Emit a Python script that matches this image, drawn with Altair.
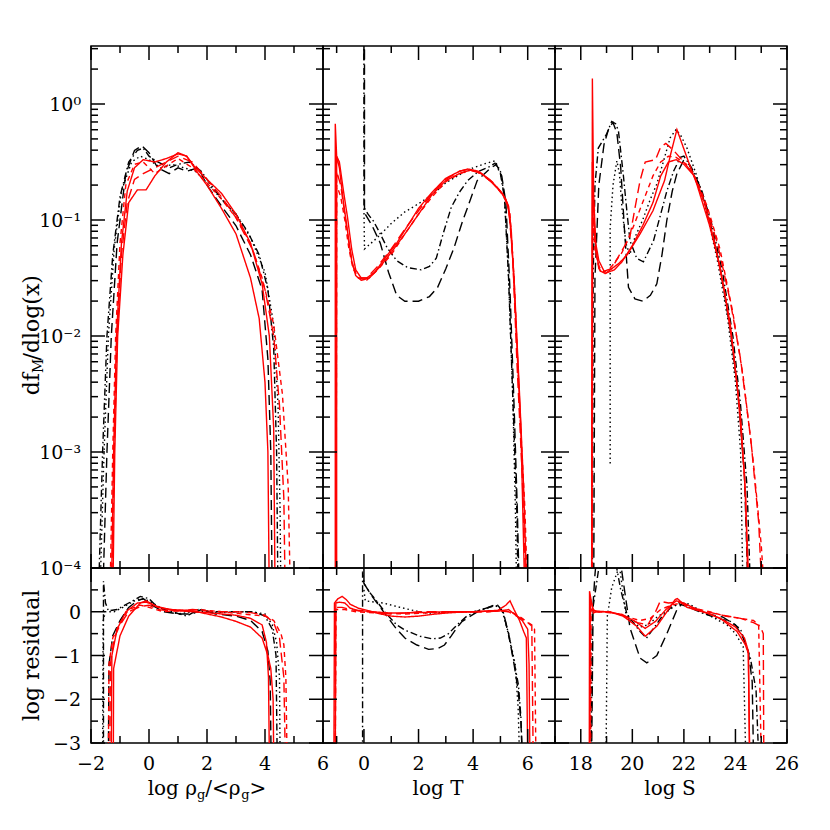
import altair as alt
import pandas as pd

# ---------------- series styling ----------------
SERIES = ["blk_dot", "blk_dashdot", "blk_longdash",
          "red_solid_a", "red_solid_b", "red_longdash", "red_shortdash"]
COLORS = ["#000000", "#000000", "#000000", "#ff0000", "#ff0000", "#ff0000", "#ff0000"]
DASHES = [[1.5, 3], [1.5, 3, 7, 3], [10, 5], [1, 0], [1, 0], [10, 5], [5, 4]]

# ---------------- data: top panels are (x, log10 df/dlogx), bottom (x, log residual) -------------
RHO_TOP_BLK_DOT = [(-1.7,-4.3),(-1.55,-3.0),(-1.4,-2.0),(-1.2,-1.25),(-0.95,-0.75),(-0.6,-0.5),(-0.3,-0.45),(0.0,-0.48),(0.4,-0.55),(0.8,-0.52),(1.2,-0.55),(1.6,-0.58),(2.0,-0.68),(2.5,-0.82),(3.0,-0.95),(3.5,-1.15),(4.0,-1.45),(4.3,-1.9),(4.45,-2.6),(4.52,-3.5),(4.55,-4.3)]
RHO_TOP_BLK_DD = [(-1.75,-4.3),(-1.6,-3.0),(-1.45,-2.0),(-1.25,-1.3),(-1.0,-0.8),(-0.7,-0.5),(-0.4,-0.4),(-0.2,-0.38),(0.0,-0.45),(0.3,-0.5),(0.7,-0.55),(1.0,-0.52),(1.4,-0.5),(1.8,-0.58),(2.2,-0.72),(2.6,-0.85),(3.0,-0.95),(3.4,-1.1),(3.8,-1.3),(4.1,-1.6),(4.3,-2.1),(4.4,-3.0),(4.45,-4.3)]
RHO_TOP_BLK_LD = [(-1.6,-4.3),(-1.45,-3.0),(-1.3,-2.0),(-1.1,-1.2),(-0.8,-0.6),(-0.5,-0.4),(-0.25,-0.36),(0.0,-0.42),(0.3,-0.55),(0.7,-0.6),(1.0,-0.55),(1.3,-0.58),(1.7,-0.55),(2.0,-0.7),(2.5,-0.88),(3.0,-1.05),(3.5,-1.3),(3.9,-1.6),(4.1,-2.2),(4.2,-3.0),(4.25,-4.3)]
RHO_TOP_RED_SA = [(-1.3,-4.3),(-1.22,-3.0),(-1.12,-2.0),(-0.95,-1.2),(-0.75,-0.75),(-0.5,-0.55),(-0.2,-0.48),(0.2,-0.5),(0.6,-0.47),(1.0,-0.43),(1.3,-0.45),(1.6,-0.55),(2.0,-0.65),(2.5,-0.77),(3.0,-0.95),(3.5,-1.2),(3.9,-1.55),(4.15,-2.0),(4.3,-2.8),(4.35,-4.3)]
RHO_TOP_RED_SB = [(-1.25,-4.3),(-1.18,-3.0),(-1.08,-2.0),(-0.9,-1.3),(-0.7,-0.85),(-0.4,-0.74),(-0.1,-0.74),(0.2,-0.62),(0.6,-0.5),(1.0,-0.42),(1.3,-0.45),(1.7,-0.6),(2.0,-0.7),(2.5,-0.9),(3.0,-1.12),(3.5,-1.5),(3.8,-1.85),(4.0,-2.4),(4.1,-3.0),(4.15,-4.3)]
RHO_TOP_RED_LD = [(-1.3,-4.3),(-1.2,-3.0),(-1.1,-2.0),(-0.95,-1.3),(-0.75,-0.85),(-0.5,-0.65),(-0.2,-0.6),(0.2,-0.55),(0.6,-0.5),(1.0,-0.45),(1.5,-0.5),(2.0,-0.65),(2.5,-0.8),(3.0,-0.98),(3.6,-1.27),(4.0,-1.6),(4.3,-2.0),(4.5,-2.6),(4.65,-3.4),(4.7,-4.3)]
RHO_TOP_RED_SD = [(-1.35,-4.3),(-1.25,-3.0),(-1.15,-2.0),(-1.0,-1.2),(-0.8,-0.7),(-0.5,-0.52),(-0.2,-0.5),(0.2,-0.6),(0.5,-0.55),(1.0,-0.47),(1.5,-0.55),(2.0,-0.68),(2.5,-0.82),(3.0,-0.98),(3.5,-1.2),(3.9,-1.5),(4.3,-1.9),(4.6,-2.5),(4.8,-3.3),(4.88,-4.3)]

RHO_BOT_BLK_DOT = [(-1.6,-3.3),(-1.58,-0.2),(-1.5,0.0),(-1.2,0.0),(-0.9,0.1),(-0.5,0.25),(-0.3,0.3),(0.0,0.25),(0.5,0.05),(1.0,-0.05),(1.5,0.0),(2.0,0.0),(2.5,-0.02),(3.0,0.0),(3.5,0.0),(4.0,-0.05),(4.25,-0.3),(4.4,-0.7),(4.5,-1.5),(4.52,-3.3)]
RHO_BOT_BLK_DD = [(-1.57,-3.3),(-1.57,0.7),(-1.5,0.2),(-1.4,0.02),(-1.1,0.05),(-0.7,0.2),(-0.3,0.35),(0.0,0.3),(0.3,0.1),(0.8,0.0),(1.3,-0.1),(1.7,0.05),(2.2,0.0),(3.0,0.0),(3.6,0.0),(4.0,-0.1),(4.25,-0.4),(4.38,-1.0),(4.42,-3.3)]
RHO_BOT_BLK_LD = [(-1.4,-3.3),(-1.38,-1.2),(-1.25,-0.55),(-1.0,-0.2),(-0.7,0.1),(-0.4,0.25),(-0.2,0.3),(0.1,0.15),(0.5,0.0),(1.0,-0.05),(1.5,-0.05),(1.8,0.05),(2.3,-0.05),(3.0,-0.1),(3.5,-0.2),(3.9,-0.45),(4.1,-0.9),(4.18,-1.6),(4.21,-3.3)]
RHO_BOT_RED_SA = [(-1.23,-3.3),(-1.22,-1.3),(-1.0,-0.55),(-0.7,-0.1),(-0.3,0.2),(-0.1,0.25),(0.3,0.1),(0.8,0.05),(1.5,0.02),(2.0,-0.05),(2.5,-0.12),(3.0,-0.22),(3.5,-0.35),(3.9,-0.6),(4.1,-1.0),(4.2,-1.3),(4.28,-2.0),(4.3,-3.3)]
RHO_BOT_RED_SB = [(-1.3,-3.3),(-1.28,-1.0),(-1.1,-0.4),(-0.8,0.0),(-0.4,0.2),(-0.1,0.22),(0.3,0.12),(0.8,0.03),(1.5,0.0),(2.0,-0.02),(2.5,-0.05),(3.0,-0.08),(3.5,-0.15),(3.9,-0.3),(4.05,-0.7),(4.12,-1.5),(4.15,-3.3)]
RHO_BOT_RED_LD = [(-1.35,-3.3),(-1.33,-1.2),(-1.2,-0.6),(-1.0,-0.3),(-0.7,0.0),(-0.3,0.12),(0.0,0.15),(0.3,0.05),(0.8,0.02),(1.5,0.05),(2.0,0.02),(2.5,0.0),(3.0,0.0),(3.5,-0.02),(4.0,-0.08),(4.3,-0.25),(4.5,-0.6),(4.65,-1.5),(4.7,-3.3)]
RHO_BOT_RED_SD = [(-1.4,-3.3),(-1.38,-1.2),(-1.25,-0.6),(-1.0,-0.25),(-0.7,0.05),(-0.3,0.15),(0.0,0.1),(0.5,0.0),(1.0,0.02),(1.7,0.05),(2.5,0.0),(3.2,-0.05),(4.0,-0.1),(4.3,-0.2),(4.55,-0.5),(4.65,-0.75),(4.72,-1.5),(4.76,-3.3)]

T_TOP_BLK_DOT = [(0.0,-0.9),(0.02,-1.25),(0.5,-1.15),(1.0,-1.03),(1.5,-0.93),(2.0,-0.86),(2.5,-0.78),(3.0,-0.68),(3.5,-0.61),(4.0,-0.55),(4.5,-0.51),(4.8,-0.49),(5.0,-0.58),(5.15,-0.8),(5.3,-1.5),(5.45,-2.5),(5.55,-3.5),(5.6,-4.3)]
T_TOP_BLK_DD = [(0.0,0.6),(0.0,-0.89),(0.15,-0.95),(0.35,-1.01),(0.6,-1.12),(0.85,-1.24),(1.2,-1.35),(1.6,-1.41),(2.1,-1.43),(2.4,-1.4),(2.65,-1.33),(2.9,-1.12),(3.2,-0.89),(3.5,-0.76),(3.8,-0.66),(4.2,-0.58),(4.6,-0.54),(4.8,-0.51),(5.0,-0.6),(5.15,-0.81),(5.3,-1.5),(5.45,-2.5),(5.6,-3.5),(5.66,-4.3)]
T_TOP_BLK_LD = [(0.02,0.6),(0.02,-0.9),(0.05,-0.95),(0.3,-1.05),(0.6,-1.2),(0.9,-1.45),(1.2,-1.65),(1.5,-1.7),(2.0,-1.7),(2.4,-1.66),(2.7,-1.58),(3.0,-1.42),(3.3,-1.24),(3.6,-1.02),(3.8,-0.89),(4.15,-0.66),(4.6,-0.56),(4.85,-0.52),(5.05,-0.62),(5.2,-0.85),(5.35,-1.6),(5.5,-2.6),(5.62,-3.5),(5.7,-4.3)]
T_TOP_RED_SA = [(-1.05,-4.3),(-1.05,-0.17),(-1.0,-0.45),(-0.9,-0.5),(-0.75,-0.75),(-0.6,-0.98),(-0.45,-1.25),(-0.3,-1.43),(-0.1,-1.5),(0.1,-1.5),(0.4,-1.45),(0.8,-1.32),(1.2,-1.2),(1.6,-1.05),(2.0,-0.9),(2.5,-0.76),(3.0,-0.64),(3.5,-0.58),(3.8,-0.56),(4.2,-0.58),(4.6,-0.65),(5.0,-0.75),(5.25,-0.85),(5.35,-1.0),(5.5,-1.5),(5.7,-2.5),(5.85,-3.3),(5.98,-4.3)]
T_TOP_RED_SB = [(-1.0,-4.3),(-1.0,-0.45),(-0.9,-0.55),(-0.75,-0.85),(-0.6,-1.1),(-0.45,-1.35),(-0.3,-1.48),(-0.1,-1.52),(0.2,-1.5),(0.6,-1.4),(1.0,-1.28),(1.5,-1.12),(2.0,-0.95),(2.5,-0.78),(3.0,-0.66),(3.5,-0.6),(3.9,-0.57),(4.3,-0.6),(4.7,-0.68),(5.1,-0.78),(5.3,-0.88),(5.4,-1.1),(5.55,-1.8),(5.75,-2.8),(5.9,-4.3)]
T_TOP_RED_LD = [(-1.02,-4.3),(-1.0,-0.58),(-0.85,-0.7),(-0.7,-0.95),(-0.55,-1.2),(-0.4,-1.4),(-0.2,-1.5),(0.1,-1.5),(0.5,-1.4),(1.0,-1.25),(1.5,-1.08),(2.0,-0.92),(2.5,-0.77),(3.0,-0.65),(3.5,-0.58),(3.9,-0.56),(4.3,-0.6),(4.7,-0.67),(5.1,-0.78),(5.3,-0.9),(5.45,-1.3),(5.6,-2.2),(5.8,-3.2),(5.95,-4.3)]
T_TOP_RED_SD = [(-1.02,-4.3),(-1.0,-0.7),(-0.85,-0.8),(-0.7,-1.0),(-0.55,-1.25),(-0.4,-1.42),(-0.2,-1.5),(0.1,-1.52),(0.5,-1.43),(1.0,-1.3),(1.5,-1.12),(2.0,-0.95),(2.5,-0.8),(3.0,-0.67),(3.5,-0.6),(3.9,-0.57),(4.3,-0.6),(4.8,-0.7),(5.2,-0.82),(5.35,-0.95),(5.5,-1.5),(5.7,-2.6),(5.9,-3.5),(6.0,-4.3)]

T_BOT_BLK_DOT = [(0.0,0.5),(0.05,0.25),(0.4,0.22),(0.7,0.2),(1.2,0.12),(1.8,0.03),(2.3,-0.03),(3.0,-0.02),(3.5,0.0),(4.0,0.0),(4.5,0.08),(4.8,0.15),(5.05,0.05),(5.3,-0.5),(5.54,-1.2),(5.65,-2.2),(5.7,-3.3)]
T_BOT_BLK_DD = [(-0.05,-3.3),(-0.05,0.92),(0.0,0.65),(0.2,0.45),(0.47,0.24),(0.7,0.05),(0.9,-0.1),(1.2,-0.3),(1.5,-0.42),(2.06,-0.56),(2.5,-0.62),(2.8,-0.6),(3.1,-0.5),(3.3,-0.37),(3.5,-0.25),(3.77,-0.1),(4.1,0.0),(4.4,0.06),(4.8,0.16),(5.1,0.0),(5.35,-0.68),(5.55,-1.3),(5.66,-1.67),(5.75,-2.4),(5.8,-3.3)]
T_BOT_BLK_LD = [(0.0,0.65),(0.3,0.35),(0.6,0.1),(0.9,-0.15),(1.2,-0.4),(1.5,-0.6),(1.94,-0.76),(2.37,-0.86),(2.7,-0.84),(2.95,-0.76),(3.2,-0.55),(3.4,-0.37),(3.6,-0.22),(3.9,-0.1),(4.3,0.05),(4.7,0.12),(4.9,0.15),(5.1,0.0),(5.3,-0.5),(5.5,-1.2),(5.65,-1.8),(5.75,-2.5),(5.8,-3.3)]
T_BOT_RED_SA = [(-1.1,-3.3),(-1.08,0.2),(-0.95,0.3),(-0.8,0.35),(-0.65,0.28),(-0.5,0.17),(-0.2,0.08),(0.2,0.02),(0.6,-0.05),(1.0,-0.1),(1.5,-0.12),(2.0,-0.1),(2.5,-0.06),(3.0,-0.03),(3.5,-0.01),(4.0,0.0),(4.5,0.02),(4.9,0.03),(5.2,0.15),(5.35,0.25),(5.5,0.05),(5.7,-0.2),(5.85,-0.45),(5.95,-0.6),(6.0,-3.3)]
T_BOT_RED_SB = [(-1.05,-3.3),(-1.03,0.2),(-0.9,0.22),(-0.7,0.2),(-0.5,0.08),(-0.2,0.03),(0.3,0.0),(1.0,-0.03),(2.0,-0.02),(3.0,0.0),(4.0,0.0),(5.0,0.02),(5.3,0.05),(5.5,-0.05),(5.8,-0.2),(6.0,-0.4),(6.05,-1.2),(6.08,-3.3)]
T_BOT_RED_LD = [(-1.05,-3.3),(-1.03,0.1),(-0.8,0.1),(-0.5,0.05),(0.0,0.0),(0.5,-0.02),(1.0,-0.05),(1.5,-0.03),(2.0,0.0),(2.5,0.0),(3.0,0.0),(3.5,0.0),(4.0,0.0),(4.5,0.0),(5.0,0.02),(5.3,0.0),(5.6,-0.1),(5.9,-0.2),(6.15,-0.3),(6.2,-3.3)]
T_BOT_RED_SD = [(-1.05,-3.3),(-1.03,0.05),(-0.7,0.05),(-0.3,0.0),(0.5,-0.03),(1.5,-0.05),(2.5,-0.02),(3.5,0.0),(4.5,0.0),(5.0,0.02),(5.4,0.0),(5.8,-0.15),(6.1,-0.3),(6.25,-0.4),(6.3,-3.3)]

S_TOP_BLK_DOT = [(19.14,-3.1),(19.14,-1.07),(19.25,-0.7),(19.4,-0.49),(19.5,-0.6),(19.6,-0.9),(19.75,-1.2),(19.9,-1.3),(20.1,-1.15),(20.4,-1.0),(20.7,-0.82),(20.95,-0.69),(21.2,-0.5),(21.47,-0.29),(21.7,-0.22),(21.9,-0.28),(22.12,-0.38),(22.5,-0.62),(22.9,-0.95),(23.3,-1.35),(23.7,-1.85),(24.0,-2.4),(24.2,-3.0),(24.3,-4.3)]
S_TOP_BLK_DD = [(18.45,-4.3),(18.48,-1.5),(18.55,-0.7),(18.68,-0.38),(19.0,-0.26),(19.2,-0.15),(19.35,-0.17),(19.46,-0.23),(19.65,-0.61),(19.8,-0.95),(19.91,-1.18),(20.17,-1.33),(20.43,-1.36),(20.82,-1.18),(21.1,-0.95),(21.34,-0.75),(21.6,-0.58),(21.86,-0.46),(22.0,-0.45),(22.3,-0.55),(22.7,-0.75),(23.1,-1.05),(23.5,-1.45),(23.9,-2.0),(24.2,-2.6),(24.45,-3.3),(24.6,-4.3)]
S_TOP_BLK_LD = [(18.5,-4.3),(18.55,-1.5),(18.7,-0.7),(18.9,-0.35),(19.1,-0.2),(19.25,-0.16),(19.4,-0.25),(19.55,-0.55),(19.7,-1.1),(19.85,-1.58),(20.1,-1.68),(20.4,-1.7),(20.7,-1.65),(20.95,-1.55),(21.15,-1.3),(21.34,-1.0),(21.55,-0.75),(21.73,-0.6),(21.98,-0.49),(22.2,-0.52),(22.6,-0.7),(23.0,-1.0),(23.4,-1.4),(23.8,-1.95),(24.1,-2.5),(24.35,-3.2),(24.5,-4.3)]
S_TOP_RED_SA = [(18.42,-4.3),(18.45,0.22),(18.5,-0.8),(18.58,-1.2),(18.7,-1.35),(18.9,-1.44),(19.2,-1.42),(19.5,-1.37),(19.8,-1.3),(20.3,-1.12),(20.8,-0.92),(21.25,-0.66),(21.5,-0.42),(21.73,-0.22),(22.1,-0.45),(22.5,-0.69),(23.0,-1.05),(23.4,-1.4),(23.8,-1.9),(24.1,-2.5),(24.35,-3.2),(24.55,-4.3)]
S_TOP_RED_SB = [(18.42,-4.3),(18.45,-0.5),(18.52,-1.0),(18.6,-1.3),(18.75,-1.44),(18.95,-1.46),(19.3,-1.43),(19.6,-1.36),(20.0,-1.22),(20.4,-1.05),(20.8,-0.85),(21.1,-0.62),(21.4,-0.5),(21.7,-0.48),(22.0,-0.52),(22.4,-0.62),(22.8,-0.85),(23.2,-1.2),(23.6,-1.65),(23.9,-2.1),(24.2,-2.7),(24.4,-3.4),(24.5,-4.3)]
S_TOP_RED_LD = [(18.44,-4.3),(18.46,-0.7),(18.55,-1.2),(18.7,-1.42),(18.9,-1.47),(19.2,-1.42),(19.5,-1.3),(19.9,-1.15),(20.1,-0.9),(20.3,-0.66),(20.5,-0.5),(20.9,-0.48),(21.1,-0.37),(21.3,-0.34),(21.6,-0.4),(22.0,-0.5),(22.4,-0.62),(22.8,-0.85),(23.3,-1.2),(23.8,-1.7),(24.2,-2.2),(24.6,-2.9),(24.9,-3.6),(25.05,-4.3)]
S_TOP_RED_SD = [(18.44,-4.3),(18.46,-0.9),(18.55,-1.25),(18.7,-1.4),(18.9,-1.45),(19.2,-1.4),(19.6,-1.28),(20.0,-1.08),(20.4,-0.85),(20.8,-0.62),(21.1,-0.5),(21.4,-0.45),(21.7,-0.46),(22.1,-0.52),(22.5,-0.66),(22.9,-0.88),(23.4,-1.25),(23.9,-1.8),(24.3,-2.35),(24.7,-3.1),(25.0,-3.8),(25.15,-4.3)]

S_BOT_BLK_DOT = [(18.98,-3.3),(19.03,-0.1),(19.2,0.55),(19.5,1.05),(19.6,0.6),(19.75,-0.05),(19.91,-0.2),(20.3,-0.35),(20.6,-0.3),(21.0,-0.1),(21.34,0.0),(21.8,0.2),(22.2,0.18),(22.7,0.0),(23.2,-0.15),(23.67,-0.3),(24.0,-0.5),(24.3,-0.8),(24.4,-3.3)]
S_BOT_BLK_DD = [(18.4,-3.3),(18.45,0.0),(18.68,0.92),(18.9,1.3),(19.3,1.3),(19.55,0.5),(19.79,-0.05),(20.1,-0.3),(20.3,-0.45),(20.55,-0.6),(20.8,-0.4),(21.1,-0.15),(21.5,0.1),(21.8,0.18),(22.2,0.1),(22.8,-0.05),(23.3,-0.15),(23.8,-0.22),(24.2,-0.4),(24.58,-1.06),(24.8,-1.8),(24.9,-3.3)]
S_BOT_BLK_LD = [(18.42,-3.3),(18.48,0.2),(18.55,0.85),(18.62,1.3),(19.5,1.3),(19.72,0.4),(19.91,-0.37),(20.3,-1.06),(20.56,-1.17),(20.95,-1.0),(21.34,-0.5),(21.73,0.05),(21.95,0.2),(22.3,0.1),(22.9,-0.05),(23.5,-0.12),(24.0,-0.3),(24.3,-0.6),(24.5,-0.9),(24.65,-1.6),(24.7,-3.3)]
S_BOT_RED_SA = [(18.33,-3.3),(18.34,0.47),(18.45,0.1),(18.49,-0.03),(18.6,0.0),(19.14,0.0),(19.64,-0.1),(20.17,-0.33),(20.5,-0.56),(20.95,-0.33),(21.34,0.0),(21.66,0.28),(21.75,0.3),(22.12,0.1),(22.9,-0.03),(23.41,-0.15),(24.06,-0.45),(24.38,-0.75),(24.5,-0.95),(24.55,-3.3)]
S_BOT_RED_SB = [(18.35,-3.3),(18.37,0.3),(18.5,0.02),(19.0,0.0),(19.6,-0.06),(20.1,-0.22),(20.5,-0.38),(20.9,-0.22),(21.3,0.05),(21.7,0.25),(22.0,0.2),(22.5,0.05),(23.0,-0.05),(23.5,-0.18),(24.0,-0.35),(24.35,-0.6),(24.5,-0.9),(24.55,-3.3)]
S_BOT_RED_LD = [(18.36,-3.3),(18.38,0.1),(18.6,0.0),(19.2,-0.02),(19.7,-0.1),(20.2,-0.25),(20.6,-0.3),(20.9,0.0),(21.08,0.24),(21.4,0.2),(21.8,0.22),(22.3,0.1),(22.9,0.0),(23.5,-0.08),(24.2,-0.15),(24.7,-0.25),(24.96,-0.33),(25.08,-0.5),(25.1,-3.3)]
S_BOT_RED_SD = [(18.38,-3.3),(18.4,0.05),(18.7,0.0),(19.3,-0.03),(19.8,-0.12),(20.3,-0.2),(20.7,-0.15),(21.1,0.05),(21.5,0.15),(21.9,0.2),(22.4,0.08),(23.0,0.0),(23.6,-0.1),(24.2,-0.15),(24.7,-0.2),(24.9,-0.3),(25.0,-3.3)]

# ---------------- axes: tick values and labels ----------------
RHO_DOMAIN = [-2, 6]
T_DOMAIN = [-1.5, 7]
S_DOMAIN = [17, 26]
TOP_DOMAIN = [1e-4, 10 ** 0.5]
RES_DOMAIN = [-3, 1]

RHO_MAJOR = [-2, 0, 2, 4, 6]
RHO_MINOR = [-1, 1, 3, 5]
RHO_LABEL_AT = [-2, 0, 2, 4, 6]
RHO_LABELS = ["\u22122", "0", "2", "4", "6"]
T_MAJOR = [0, 2, 4, 6]
T_MINOR = [-1, 1, 3, 5, 7]
T_LABEL_AT = [0, 2, 4, 6]
T_LABELS = ["0", "2", "4", "6"]
S_MAJOR = [18, 20, 22, 24, 26]
S_MINOR = [17, 19, 21, 23, 25]
S_LABEL_AT = [18, 20, 22, 24, 26]
S_LABELS = ["18", "20", "22", "24", "26"]
LOG_MAJOR = [1e-4, 1e-3, 1e-2, 1e-1, 1.0]
LOG_MINOR = [k * 10.0 ** d for d in range(-4, 1) for k in range(2, 10) if k * 10.0 ** d < 10 ** 0.5]
LOG_LABELS = ["10\u207b\u2074", "10\u207b\u00b3", "10\u207b\u00b2", "10\u207b\u00b9", "10\u2070"]
RES_MAJOR = [-3, -2, -1, 0, 1]
RES_MINOR = [-2.5, -1.5, -0.5, 0.5]
RES_LABEL_AT = [-3, -2, -1, 0]
RES_LABELS = ["\u22123", "\u22122", "\u22121", "0"]

FONT = "DejaVu Serif"
W = 232
H_TOP = 522
H_BOT = 175
MAJ = 14
MIN = 7
LW = 1.4


def curves_frame(curves, log_y):
    rows = []
    for name, pts in curves.items():
        for i, (x, y) in enumerate(pts):
            rows.append({"series": name, "i": i, "x": x, "y": 10 ** y if log_y else y})
    return pd.DataFrame(rows)


def one_row():
    return pd.DataFrame({"a": [0]})


def text_piece(txt, x, y, size=20, angle=0, align="left", baseline="alphabetic"):
    return alt.Chart(one_row()).mark_text(
        font=FONT, fontSize=size, angle=angle, align=align, baseline=baseline, color="black"
    ).encode(x=alt.value(x), y=alt.value(y), text=alt.value(txt))


def panel(curves, xdom, ydom, log_y, h, xmaj, xmin, ymaj, ymin,
          xlab_at=None, xlabs=None, ylab_at=None, ylabs=None, extra=()):
    xs = alt.Scale(domain=xdom, nice=False, zero=False)
    if log_y:
        ys = alt.Scale(type="log", domain=ydom, nice=False)
    else:
        ys = alt.Scale(domain=ydom, nice=False, zero=False)
    X = lambda f: alt.X(f, scale=xs, axis=None)
    Y = lambda f: alt.Y(f, scale=ys, axis=None)

    df = curves_frame(curves, log_y)
    lines = alt.Chart(df).mark_line(clip=True, strokeWidth=LW).encode(
        x=X("x:Q"), y=Y("y:Q"),
        color=alt.Color("series:N", scale=alt.Scale(domain=SERIES, range=COLORS), legend=None),
        strokeDash=alt.StrokeDash("series:N", scale=alt.Scale(domain=SERIES, range=DASHES), legend=None),
        order=alt.Order("i:Q"),
        detail="series:N",
    )
    layers = [lines]
    xmaj_df = pd.DataFrame({"v": xmaj})
    xmin_df = pd.DataFrame({"v": xmin})
    ymaj_df = pd.DataFrame({"v": ymaj})
    ymin_df = pd.DataFrame({"v": ymin})
    rule = dict(color="black", strokeWidth=1.5)
    for d, ln in ((xmaj_df, MAJ), (xmin_df, MIN)):
        layers.append(alt.Chart(d).mark_rule(**rule).encode(x=X("v:Q"), y=alt.value(h), y2=alt.value(h - ln)))
        layers.append(alt.Chart(d).mark_rule(**rule).encode(x=X("v:Q"), y=alt.value(0), y2=alt.value(ln)))
    for d, ln in ((ymaj_df, MAJ), (ymin_df, MIN)):
        layers.append(alt.Chart(d).mark_rule(**rule).encode(y=Y("v:Q"), x=alt.value(0), x2=alt.value(ln)))
        layers.append(alt.Chart(d).mark_rule(**rule).encode(y=Y("v:Q"), x=alt.value(W), x2=alt.value(W - ln)))
    if xlabs is not None:
        d = pd.DataFrame({"v": xlab_at, "t": xlabs})
        layers.append(alt.Chart(d).mark_text(font=FONT, fontSize=19, align="center",
                                             baseline="alphabetic", color="black").encode(
            x=X("v:Q"), y=alt.value(h + 27), text="t:N"))
    if ylabs is not None:
        d = pd.DataFrame({"v": ylab_at, "t": ylabs})
        layers.append(alt.Chart(d).mark_text(font=FONT, fontSize=19, align="right",
                                             baseline="middle", dy=1, color="black").encode(
            y=Y("v:Q"), x=alt.value(-10), text="t:N"))
    layers.extend(extra)
    return alt.layer(*layers).properties(width=W, height=h)


RHO_TOP = {"blk_dot": RHO_TOP_BLK_DOT, "blk_dashdot": RHO_TOP_BLK_DD, "blk_longdash": RHO_TOP_BLK_LD,
           "red_solid_a": RHO_TOP_RED_SA, "red_solid_b": RHO_TOP_RED_SB,
           "red_longdash": RHO_TOP_RED_LD, "red_shortdash": RHO_TOP_RED_SD}
RHO_BOT = {"blk_dot": RHO_BOT_BLK_DOT, "blk_dashdot": RHO_BOT_BLK_DD, "blk_longdash": RHO_BOT_BLK_LD,
           "red_solid_a": RHO_BOT_RED_SA, "red_solid_b": RHO_BOT_RED_SB,
           "red_longdash": RHO_BOT_RED_LD, "red_shortdash": RHO_BOT_RED_SD}
T_TOP = {"blk_dot": T_TOP_BLK_DOT, "blk_dashdot": T_TOP_BLK_DD, "blk_longdash": T_TOP_BLK_LD,
         "red_solid_a": T_TOP_RED_SA, "red_solid_b": T_TOP_RED_SB,
         "red_longdash": T_TOP_RED_LD, "red_shortdash": T_TOP_RED_SD}
T_BOT = {"blk_dot": T_BOT_BLK_DOT, "blk_dashdot": T_BOT_BLK_DD, "blk_longdash": T_BOT_BLK_LD,
         "red_solid_a": T_BOT_RED_SA, "red_solid_b": T_BOT_RED_SB,
         "red_longdash": T_BOT_RED_LD, "red_shortdash": T_BOT_RED_SD}
S_TOP = {"blk_dot": S_TOP_BLK_DOT, "blk_dashdot": S_TOP_BLK_DD, "blk_longdash": S_TOP_BLK_LD,
         "red_solid_a": S_TOP_RED_SA, "red_solid_b": S_TOP_RED_SB,
         "red_longdash": S_TOP_RED_LD, "red_shortdash": S_TOP_RED_SD}
S_BOT = {"blk_dot": S_BOT_BLK_DOT, "blk_dashdot": S_BOT_BLK_DD, "blk_longdash": S_BOT_BLK_LD,
         "red_solid_a": S_BOT_RED_SA, "red_solid_b": S_BOT_RED_SB,
         "red_longdash": S_BOT_RED_LD, "red_shortdash": S_BOT_RED_SD}

# invisible anchor fixing the chart's left/top extent
anchor = alt.Chart(one_row()).mark_rule(opacity=0, strokeWidth=1).encode(
    x=alt.value(-82), x2=alt.value(-81), y=alt.value(-37), y2=alt.value(-36))

# y titles (rotated), built from pieces for the subscript
YT_X = -52
A = 327
ytitle_top = [
    text_piece("df", YT_X, A, size=22, angle=270, align="right"),
    text_piece("M", YT_X + 4, A, size=14, angle=270, align="left"),
    text_piece("/dlog(x)", YT_X, A - 12.5, size=22, angle=270, align="left"),
]
ytitle_bot = [text_piece("log residual", YT_X, H_BOT / 2, size=22, angle=270, align="center")]

XT_Y = 227.3
X1 = 106
X2 = X1 + 8.3 + 36
xtitle_rho = [
    text_piece("log \u03c1", X1, XT_Y, align="right"),
    text_piece("g", X1, XT_Y + 4, size=13),
    text_piece("/<\u03c1", X1 + 8.3, XT_Y),
    text_piece("g", X2, XT_Y + 4, size=13),
    text_piece(">", X2 + 8.3, XT_Y),
]
xtitle_t = [text_piece("log T", W / 2 - 1, XT_Y, align="center")]
xtitle_s = [text_piece("log S", W / 2 - 1, XT_Y, align="center")]

p1 = panel(RHO_TOP, RHO_DOMAIN, TOP_DOMAIN, True, H_TOP, RHO_MAJOR, RHO_MINOR, LOG_MAJOR, LOG_MINOR,
           ylab_at=LOG_MAJOR, ylabs=LOG_LABELS, extra=[anchor] + ytitle_top)
p2 = panel(T_TOP, T_DOMAIN, TOP_DOMAIN, True, H_TOP, T_MAJOR, T_MINOR, LOG_MAJOR, LOG_MINOR)
p3 = panel(S_TOP, S_DOMAIN, TOP_DOMAIN, True, H_TOP, S_MAJOR, S_MINOR, LOG_MAJOR, LOG_MINOR)
p4 = panel(RHO_BOT, RHO_DOMAIN, RES_DOMAIN, False, H_BOT, RHO_MAJOR, RHO_MINOR, RES_MAJOR, RES_MINOR,
           xlab_at=RHO_LABEL_AT, xlabs=RHO_LABELS, ylab_at=RES_LABEL_AT, ylabs=RES_LABELS,
           extra=ytitle_bot + xtitle_rho)
p5 = panel(T_BOT, T_DOMAIN, RES_DOMAIN, False, H_BOT, T_MAJOR, T_MINOR, RES_MAJOR, RES_MINOR,
           xlab_at=T_LABEL_AT, xlabs=T_LABELS, extra=xtitle_t)
p6 = panel(S_BOT, S_DOMAIN, RES_DOMAIN, False, H_BOT, S_MAJOR, S_MINOR, RES_MAJOR, RES_MINOR,
           xlab_at=S_LABEL_AT, xlabs=S_LABELS, extra=xtitle_s)

chart = alt.concat(p1, p2, p3, p4, p5, p6, columns=3, spacing=0, bounds="flush", align="each").properties(
    padding=0, background="white"
).configure_view(stroke="black", strokeWidth=1.5)

chart.save("out.html", embed_options={"renderer": "svg", "actions": False})
